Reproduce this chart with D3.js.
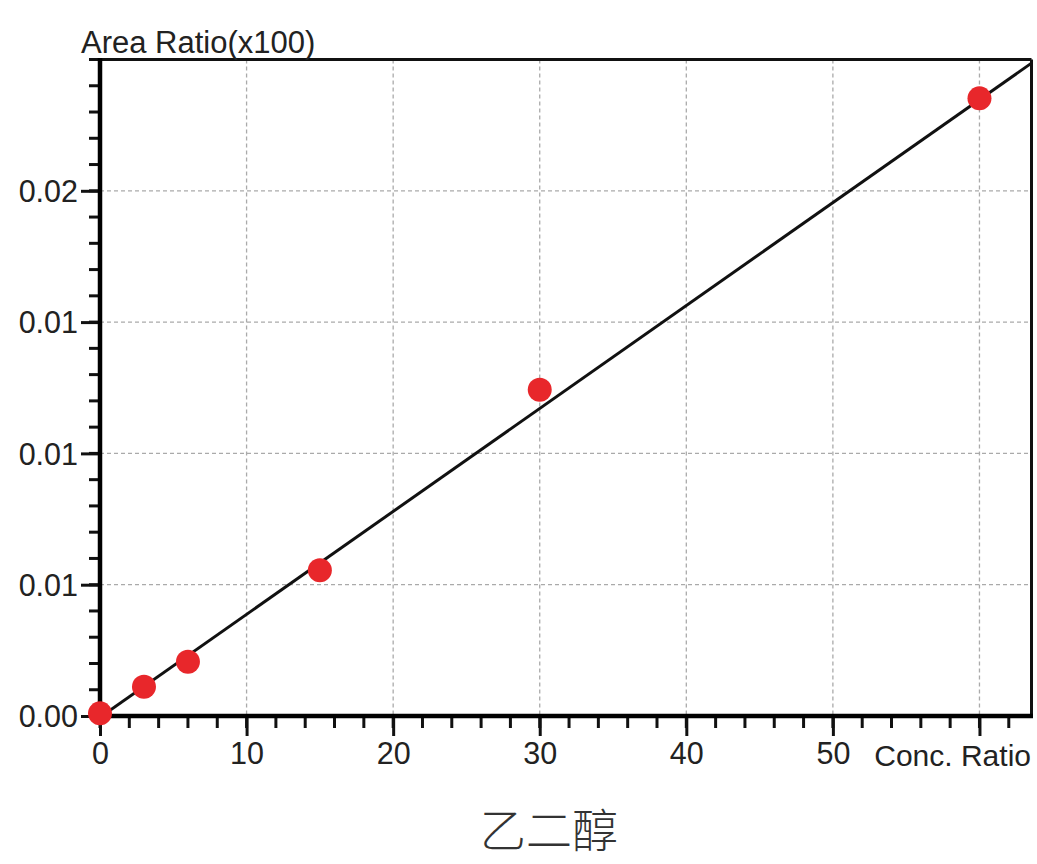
<!DOCTYPE html>
<html>
<head>
<meta charset="utf-8">
<script src="https://cdn.jsdelivr.net/npm/d3@7"></script>
<style>
html,body{margin:0;padding:0;background:#fff;}
svg{display:block;}
</style>
</head>
<body>
<svg id="chart" width="1037" height="864"></svg>
<script>
// Data
const concRatio = [0, 3, 6, 15, 30, 60];
const areaRatio = [0.0001, 0.00111, 0.00207, 0.00555, 0.01242, 0.02352];
const xTickValues = [0, 10, 20, 30, 40, 50, 60];
const xTickLabels = ["0", "10", "20", "30", "40", "50", ""];
const yTickValues = [0, 0.005, 0.01, 0.015, 0.02];
const yTickLabels = ["0.00", "0.01", "0.01", "0.01", "0.02"];
const regSlope = 0.000392;
const regIntercept = -0.00005;
const xDomain = [0, 63.55];
const yDomain = [0, 0.025];

const svg = d3.select("#chart");
const L = 100, R = 1031.5, T = 59.5, B = 716;
const x = d3.scaleLinear().domain(xDomain).range([L, R]);
const y = d3.scaleLinear().domain(yDomain).range([B, T]);
const font = "'Liberation Sans', Arial, sans-serif";
const textCol = "#222";

svg.append("rect").attr("x", L).attr("y", T).attr("width", R - L).attr("height", B - T).attr("fill", "#fff");

// grid
const grid = svg.append("g").attr("stroke", "#aaa").attr("stroke-width", 1.3).attr("stroke-dasharray", "4,3");
grid.selectAll("line.gx").data(xTickValues.filter(v => v > 0)).join("line")
  .attr("x1", d => x(d)).attr("x2", d => x(d)).attr("y1", T).attr("y2", B);
grid.selectAll("line.gy").data(yTickValues.filter(v => v > 0)).join("line")
  .attr("y1", d => y(d)).attr("y2", d => y(d)).attr("x1", L).attr("x2", R);

// regression line
svg.append("clipPath").attr("id", "clip").append("rect")
  .attr("x", L).attr("y", T).attr("width", R - L).attr("height", B - T);
const lineX = [xDomain[0], xDomain[1]];
svg.append("path")
  .attr("clip-path", "url(#clip)")
  .attr("d", d3.line().x(d => x(d)).y(d => y(regIntercept + regSlope * d))(lineX))
  .attr("stroke", "#111").attr("stroke-width", 3).attr("fill", "none");

// frame (top/right)
svg.append("line").attr("x1", L).attr("x2", R).attr("y1", T).attr("y2", T).attr("stroke", "#111").attr("stroke-width", 3);
svg.append("line").attr("x1", R).attr("x2", R).attr("y1", T).attr("y2", B).attr("stroke", "#111").attr("stroke-width", 3);

// y axis
const yMinor = d3.range(0, 0.0250001, 0.001);
const yAxis = d3.axisLeft(y).tickValues(yTickValues).tickSize(19).tickPadding(3)
  .tickFormat((d, i) => yTickLabels[i]);
const gy = svg.append("g").attr("transform", `translate(${L},0)`).call(yAxis);
gy.select(".domain").remove();
gy.selectAll(".tick line").attr("stroke", "#111").attr("stroke-width", 3);
gy.selectAll(".tick text").attr("font-family", font).attr("font-size", 30.5).attr("fill", textCol).attr("dy", "0.35em");
svg.append("g").selectAll("line").data(yMinor).join("line")
  .attr("x1", L - 11).attr("x2", L).attr("y1", d => y(d)).attr("y2", d => y(d))
  .attr("stroke", "#111").attr("stroke-width", 3);
svg.append("line").attr("x1", L).attr("x2", L).attr("y1", T - 1.5).attr("y2", B + 2).attr("stroke", "#000").attr("stroke-width", 4.5);

// x axis
const xMinor = d3.range(0, 63.55, 2);
const xAxis = d3.axisBottom(x).tickValues(xTickValues).tickSize(20).tickPadding(6)
  .tickFormat((d, i) => xTickLabels[i]);
const gx = svg.append("g").attr("transform", `translate(0,${B})`).call(xAxis);
gx.select(".domain").remove();
gx.selectAll(".tick line").attr("stroke", "#111").attr("stroke-width", 3);
gx.selectAll(".tick text").attr("font-family", font).attr("font-size", 30.5).attr("fill", textCol);
svg.append("g").selectAll("line").data(xMinor).join("line")
  .attr("x1", d => x(d)).attr("x2", d => x(d)).attr("y1", B).attr("y2", B + 12)
  .attr("stroke", "#111").attr("stroke-width", 3);
svg.append("line").attr("x1", L - 2).attr("x2", R + 1.5).attr("y1", B).attr("y2", B).attr("stroke", "#000").attr("stroke-width", 4.5);

// points
svg.append("g").selectAll("circle").data(concRatio).join("circle")
  .attr("cx", d => x(d)).attr("cy", (d, i) => y(areaRatio[i])).attr("r", 12)
  .attr("fill", "#e8272b");

// axis titles
svg.append("text").attr("x", 81).attr("y", 53).attr("font-family", font).attr("font-size", 31)
  .attr("fill", textCol).text("Area Ratio(x100)");
svg.append("text").attr("x", 1031).attr("y", 766).attr("text-anchor", "end").attr("font-family", font).attr("font-size", 30)
  .attr("fill", textCol).text("Conc. Ratio");
svg.append("text").attr("x", 549).attr("y", 847).attr("text-anchor", "middle")
  .attr("font-family", "'Noto Sans CJK SC', sans-serif").attr("font-weight", 300).attr("font-size", 46)
  .attr("fill", "#333").text("乙二醇");
</script>
</body>
</html>
